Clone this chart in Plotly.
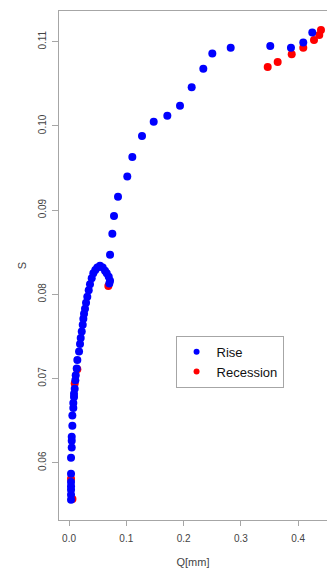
import plotly.graph_objects as go

# Rising limb of the storage-discharge relation
rise_q = [0.0035, 0.0035, 0.0035, 0.0035, 0.0035, 0.0035, 0.0035,
          0.0047, 0.0047, 0.0047, 0.0058, 0.0058, 0.0075, 0.0075,
          0.0087, 0.0087, 0.0099, 0.0110, 0.0117, 0.0134, 0.0145,
          0.0175, 0.0192, 0.0204, 0.0222, 0.0239, 0.0250, 0.0262,
          0.0279, 0.0297, 0.0319, 0.0344, 0.0366, 0.0396, 0.0424,
          0.0459, 0.0494, 0.0541, 0.0588, 0.0628, 0.0658, 0.0693,
          0.0716, 0.0703, 0.0716, 0.0756, 0.0785, 0.0855, 0.1017,
          0.1105, 0.1274, 0.1478, 0.1716, 0.1937, 0.2141, 0.2344,
          0.2501, 0.2822, 0.3513, 0.3874, 0.4089, 0.4246]
rise_s = [0.0556, 0.0562, 0.0568, 0.0572, 0.0577, 0.0587, 0.0606,
          0.0618, 0.0626, 0.0631, 0.0644, 0.0656, 0.0665, 0.0671,
          0.0678, 0.0682, 0.0688, 0.0698, 0.0704, 0.0712, 0.0722,
          0.0732, 0.0741, 0.0748, 0.0756, 0.0764, 0.0771, 0.0777,
          0.0783, 0.0790, 0.0797, 0.0805, 0.0812, 0.0819, 0.0825,
          0.0829, 0.0832, 0.0834, 0.0832, 0.0828, 0.0825, 0.0821,
          0.0816, 0.0813, 0.0847, 0.0872, 0.0893, 0.0916, 0.0940,
          0.0963, 0.0988, 0.1005, 0.1012, 0.1024, 0.1046, 0.1068,
          0.1086, 0.1093, 0.1095, 0.1093, 0.1099, 0.1111]

# Recession limb
rec_q = [0.0060, 0.0035, 0.0099, 0.0145, 0.0686,
         0.3468, 0.3642, 0.3887, 0.4089, 0.4276, 0.4368, 0.4398]
rec_s = [0.0557, 0.0581, 0.0694, 0.0711, 0.0810,
         0.1070, 0.1076, 0.1085, 0.1093, 0.1102, 0.1108, 0.1114]

x_ticks = [0.0, 0.1, 0.2, 0.3, 0.4]
y_ticks = [0.06, 0.07, 0.08, 0.09, 0.10, 0.11]

BLUE = "#0000ff"
RED = "#ff0000"
GREY = "#a6a6a6"
FONT = "Liberation Sans, Arial, sans-serif"

fig = go.Figure()
fig.add_trace(go.Scatter(x=rec_q, y=rec_s, mode="markers", showlegend=False,
                         marker=dict(color=RED, size=8)))
fig.add_trace(go.Scatter(x=rise_q, y=rise_s, mode="markers", showlegend=False,
                         marker=dict(color=BLUE, size=8)))
# legend entries with smaller symbols
fig.add_trace(go.Scatter(x=[None], y=[None], mode="markers", name="Rise",
                         marker=dict(color=BLUE, size=6)))
fig.add_trace(go.Scatter(x=[None], y=[None], mode="markers", name="Recession",
                         marker=dict(color=RED, size=6)))

fig.update_layout(
    width=327, height=573,
    margin=dict(l=59, r=0, t=11, b=53),
    paper_bgcolor="white", plot_bgcolor="white",
    font=dict(family=FONT, color="#444444", size=10),
    legend=dict(x=0.435, y=0.362, xanchor="left", yanchor="top",
                bordercolor=GREY, borderwidth=1, bgcolor="white",
                font=dict(size=13, color="#111111"), tracegroupgap=0,
                itemwidth=30),
)
fig.update_xaxes(
    range=[-0.0175, 0.4503], showgrid=False, zeroline=False,
    showline=True, linecolor=GREY, linewidth=1, mirror=True,
    ticks="outside", ticklen=5, tickcolor=GREY,
    tickvals=x_ticks, tickformat=".1f", ticklabelstandoff=4,
    title=dict(text="Q[mm]", font=dict(size=11), standoff=15),
)
fig.update_yaxes(
    range=[0.0532, 0.11365], showgrid=False, zeroline=False,
    showline=True, linecolor=GREY, linewidth=1, mirror=False,
    ticks="outside", ticklen=6, tickcolor=GREY,
    tickvals=y_ticks, tickformat=".2f", tickangle=-90, ticklabelstandoff=2,
    title=dict(text="S", font=dict(size=11), standoff=8),
)

fig.write_html("out.html")
